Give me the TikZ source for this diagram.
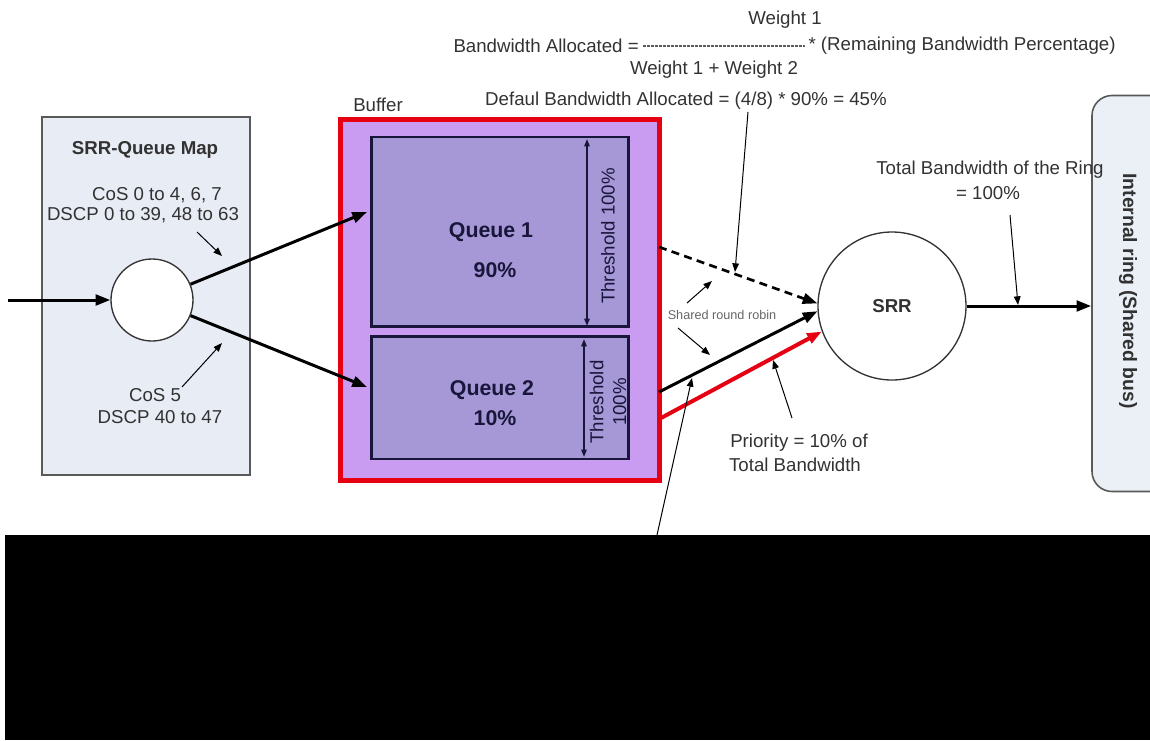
\documentclass[tikz,border=0pt]{standalone}
\usepackage{fontspec}
\setmainfont{Liberation Sans}
\usetikzlibrary{arrows.meta}
\definecolor{mapfill}{RGB}{232,236,245}
\definecolor{buffill}{RGB}{201,156,242}
\definecolor{quefill}{RGB}{166,152,214}
\definecolor{quedraw}{RGB}{25,22,60}
\definecolor{txtgray}{RGB}{50,50,50}
\definecolor{bufred}{RGB}{230,0,18}
\tikzset{every picture/.style={line width=0.75pt}}
\tikzset{
  txt/.style={font=\fontsize{14}{17}\selectfont, text=txtgray, inner sep=0pt, align=center},
  qtxt/.style={font=\bfseries\fontsize{16}{19}\selectfont, text=quedraw, inner sep=0pt},
  bigarrow/.style={line width=2.25pt, -{Triangle[length=11pt,width=8pt]}},
  thinarrow/.style={line width=0.75pt, -{Triangle[length=6.5pt,width=5pt]}},
  thresh/.style={line width=1.2pt, draw=quedraw, {Triangle[length=5.5pt,width=4pt]}-{Triangle[length=5.5pt,width=4pt]}},
  qbox/.style={draw=quedraw, line width=2pt, fill=quefill, minimum width=193pt, inner sep=0pt},
  fracbar/.style={line width=0.9pt, draw=txtgray!80, dash pattern=on 2pt off 1pt},
}

\begin{document}
\begin{tikzpicture}[x=0.75pt,y=0.75pt,yscale=-1,xscale=1]
\useasboundingbox (0,0) rectangle (1150,740);

%Shape: Rectangle [map box]
\draw (146,296) node (map) [draw=black!65, line width=1.2pt, fill=mapfill, minimum width=156pt, minimum height=268.5pt] {};
%Shape: Circle [map]
\draw (152,300) node (mapc) [circle, draw=black!80, line width=1pt, fill=white, minimum size=61.5pt, inner sep=0pt] {};
%Shape: Rectangle [buffer]
\draw (500,300) node (buf) [draw=bufred, line width=3.75pt, fill=buffill, minimum width=239pt, minimum height=270.75pt] {};
%Shape: Rectangle [queue 1]
\draw (500,231.5) node (q1) [qbox, minimum height=142pt] {};
%Shape: Rectangle [queue 2]
\draw (500,397.5) node (q2) [qbox, minimum height=92pt] {};
%Shape: Circle [srr]
\draw (892,306) node (srr) [circle, draw=black!80, line width=1pt, fill=white, minimum size=111pt, inner sep=0pt, font=\bfseries\fontsize{14}{17}\selectfont, text=txtgray] {SRR};
%Shape: Rounded Rect [ring]
\draw (1136,293.5) node (ring) [draw=black!65, line width=1.2pt, fill=mapfill!85!white, rounded corners=15pt, minimum width=66pt, minimum height=297pt] {};

%Straight Lines [input]
\coordinate (inp) at (8,300);
\draw [bigarrow] (inp) -- (mapc);
%Straight Lines [to queues]
\coordinate (q1in) at (367,212);
\coordinate (q2in) at (367,387);
\draw [bigarrow] (mapc) -- (q1in);
\draw [bigarrow] (mapc) -- (q2in);
%Straight Lines [thresholds]
\coordinate (t1a) at (587,139);
\coordinate (t1b) at (587,326);
\draw [thresh] (t1a) -- (t1b);
\coordinate (t2a) at (584,339);
\coordinate (t2b) at (584,457);
\draw [thresh] (t2a) -- (t2b);
%Straight Lines [queues to srr]
\coordinate (q1out) at (659,247);
\coordinate (q2out) at (659,392);
\coordinate (q2pri) at (661,418);
\draw [bigarrow, line width=2pt, dash pattern=on 6pt off 4pt] (q1out) -- (srr.178);
\draw [bigarrow] (q2out) -- (srr.184);
\draw [bigarrow, draw=bufred, line width=3pt] (q2pri) -- (srr.200);
%Straight Lines [srr to ring]
\draw [bigarrow] (srr.east) -- (ring.west |- srr.east);

%Straight Lines [pointers]
\coordinate (a1s) at (197,232);
\coordinate (a1e) at (222,256);
\draw [thinarrow] (a1s) -- (a1e);
\coordinate (a2s) at (182,387);
\coordinate (a2e) at (222,343);
\draw [thinarrow] (a2s) -- (a2e);
\coordinate (r1s) at (687,303);
\coordinate (r1e) at (712,281);
\draw [thinarrow] (r1s) -- (r1e);
\coordinate (r2s) at (678,328);
\coordinate (r2e) at (710,355);
\draw [thinarrow] (r2s) -- (r2e);
\coordinate (defa) at (748,112);
\coordinate (defb) at (735,272);
\draw [thinarrow] (defa) -- (defb);
\coordinate (pria) at (792,418);
\coordinate (prib) at (773,360);
\draw [thinarrow] (pria) -- (prib);
\coordinate (hida) at (657,535);
\coordinate (hidb) at (692,378);
\draw [thinarrow] (hida) -- (hidb);
\coordinate (rta) at (1010,215);
\coordinate (rtb) at (1018,305);
\draw [thinarrow] (rta) -- (rtb);

% Text Node
\draw (145,150) node (maptitle) [txt, font=\bfseries\fontsize{14}{17}\selectfont] {SRR-Queue Map};
% Text Node
\draw (157,195) node (cos1) [txt] {CoS 0 to 4, 6, 7};
% Text Node
\draw (143,215) node (dscp1) [txt] {DSCP 0 to 39, 48 to 63};
% Text Node
\draw (155,395) node (cos2) [txt] {CoS 5};
% Text Node
\draw (160,417) node (dscp2) [txt] {DSCP 40 to 47};
% Text Node
\draw (378,105) node (buflbl) [txt] {Buffer};
% Text Node
\draw (491,232) node (q1name) [qtxt] {Queue 1};
% Text Node
\draw (495,270) node (q1pct) [qtxt] {90\%};
% Text Node
\draw (492,390) node (q2name) [qtxt] {Queue 2};
% Text Node
\draw (495,418) node (q2pct) [qtxt] {10\%};
% Text Node
\draw (608,236) node (t1txt) [txt, rotate=90, text=quedraw] {Threshold 100\%};
% Text Node
\draw (608,402) node (t2txt) [txt, rotate=90, text=quedraw, font=\fontsize{14}{17}\selectfont] {Threshold\\100\%};
% Text Node
\draw (722,315) node (srrtxt) [txt, font=\fontsize{9.5}{11}\selectfont, text=black!60] {Shared round robin};
% Text Node
\draw (785,20) node (w1) [txt] {Weight 1};
% Text Node
\draw (453,46) node (bwalloc) [txt, anchor=west] {Bandwidth Allocated =};
% Text Node
\draw (808,46) node (rem) [txt, anchor=west] {* (Remaining Bandwidth Percentage)};
\draw [fracbar] ([xshift=3pt]bwalloc.east) -- ([xshift=-2pt]rem.west |- bwalloc.east);
% Text Node
\draw (714,70) node (w12) [txt] {Weight 1 + Weight 2};
% Text Node
\draw (686,101) node (defbw) [txt] {Defaul Bandwidth Allocated = (4/8) * 90\% = 45\%};
% Text Node
\draw (799,443) node (pri1) [txt] {Priority = 10\% of};
% Text Node
\draw (795,465) node (pri2) [txt] {Total Bandwidth};
% Text Node
\draw (990,170) node (ringtot1) [txt] {Total Bandwidth of the Ring};
% Text Node
\draw (988,193) node (ringtot2) [txt] {= 100\%};
% Text Node
\draw (1128,291) node (ringtxt) [txt, rotate=-90, font=\bfseries\fontsize{14.5}{17}\selectfont] {Internal ring (Shared bus)};

%Shape: Rectangle [black band]
\fill (5,535) rectangle (1150,740);

\end{tikzpicture}
\end{document}
